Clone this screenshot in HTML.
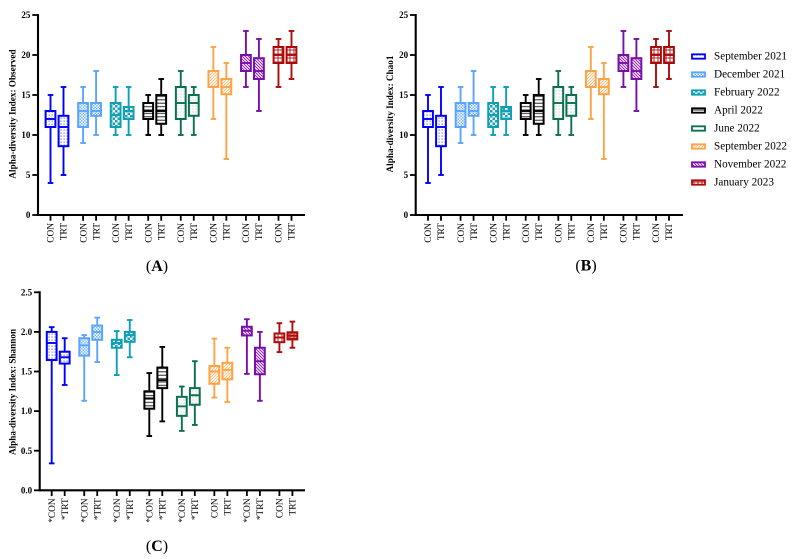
<!DOCTYPE html>
<html lang="en">
<head>
<meta charset="utf-8">
<title>Alpha-diversity box plots</title>
<style>
html,body{margin:0;padding:0;background:#fff;}
#figure{display:block;width:792px;height:559px;font-family:"Liberation Serif",serif;filter:blur(0.3px);}
text{font-family:"Liberation Serif",serif;fill:#000;}
</style>
</head>
<body>
<svg id="figure" xmlns="http://www.w3.org/2000/svg" width="792" height="559" viewBox="0 0 792 559"><defs id="defs"></defs></svg>
<script>
const months = ["September 2021","December 2021","February 2022","April 2022","June 2022","September 2022","November 2022","January 2023"];
const monthColors = ["#0000ff","#5aa5ff","#0f9fb5","#000000","#0b7050","#ffa347","#7a0fa8","#ad0a0a"];

const yTicksCount = [0,5,10,15,20,25];
const yTicksShannon = [0,0.5,1,1.5,2,2.5];
const yTickLabelsCount = ["0","5","10","15","20","25"];
const yTickLabelsShannon = ["0.0","0.5","1.0","1.5","2.0","2.5"];

const labelsPlain = ["CON","TRT","CON","TRT","CON","TRT","CON","TRT","CON","TRT","CON","TRT","CON","TRT","CON","TRT"];
const labelsShannon = ["*CON","*TRT","*CON","*TRT","*CON","*TRT","*CON","*TRT","*CON","*TRT","CON","TRT","*CON","*TRT","CON","TRT"];

const observedMin = [4,5,9,10,10,10,10,10,10,10,12,7,16,13,16,17];
const observedQ1 = [11,8.6,11,12.4,11,12,12,11.4,12,12.4,16,15.1,18,17,19,19];
const observedMedian = [12,11,13,13,12.5,13,13,13,14,14,16,16,19,18,20,20];
const observedQ3 = [13,12.4,14,14,14,13.5,14,15,16,15,18,17,20,19.6,21,21];
const observedMax = [15,16,16,18,16,16,15,17,18,16,21,19,23,22,22,23];

const chao1Min = [4,5,9,10,10,10,10,10,10,10,12,7,16,13,16,17];
const chao1Q1 = [11,8.6,11,12.4,11,12,12,11.4,12,12.4,16,15.1,18,17,19,19];
const chao1Median = [12,11,13,13,12.5,13,13,13,14,14,16,16,19,18,20,20];
const chao1Q3 = [13,12.4,14,14,14,13.5,14,15,16,15,18,17,20,19.6,21,21];
const chao1Max = [15,16,16,18,16,16,15,17,18,16,21,19,23,22,22,23];

const shannonMin = [0.34,1.33,1.13,1.62,1.455,1.68,0.685,0.87,0.75,0.825,1.17,1.115,1.47,1.13,1.745,1.80];
const shannonQ1 = [1.645,1.60,1.70,1.90,1.80,1.875,1.03,1.29,0.94,1.08,1.345,1.40,1.955,1.465,1.87,1.905];
const shannonMedian = [1.86,1.68,1.83,2.0,1.86,1.96,1.16,1.39,1.06,1.20,1.50,1.52,2.015,1.63,1.93,1.95];
const shannonQ3 = [2.0,1.75,1.92,2.08,1.90,2.0,1.25,1.55,1.18,1.29,1.57,1.61,2.065,1.80,1.98,1.995];
const shannonMax = [2.06,1.92,1.96,2.18,2.01,2.15,1.48,1.81,1.31,1.63,1.915,1.80,2.16,2.0,2.11,2.13];

const NS = "http://www.w3.org/2000/svg";
const svg = document.getElementById("figure");
const defs = document.getElementById("defs");



function make(tag, attrs, parent) {
  const el = document.createElementNS(NS, tag);
  for (const k in attrs) el.setAttribute(k, attrs[k]);
  (parent || svg).appendChild(el);
  return el;
}

function addPattern(id, size, color, shapes) {
  const p = make("pattern", {id: id, width: size, height: size, patternUnits: "userSpaceOnUse"}, defs);
  make("rect", {width: size, height: size, fill: "#fff"}, p);
  shapes.forEach(function (s) {
    make(s.tag, Object.assign({}, s.attrs, s.tag === "path" ? {stroke: color, fill: "none"} : {fill: color}), p);
  });
}

function rectShape(x, y, w, h, o) {
  return {tag: "rect", attrs: {x: x, y: y, width: w, height: h, opacity: o}};
}
function pathShape(d, w, o) {
  return {tag: "path", attrs: {d: d, "stroke-width": w, opacity: o}};
}

const patternShapes = [
  {size: 3, shapes: [rectShape(0.5, 0.5, 1.2, 1.2, 0.55)]},
  {size: 3, shapes: [rectShape(0, 0, 1.5, 1.5, 0.8), rectShape(1.5, 1.5, 1.5, 1.5, 0.8)]},
  {size: 5, shapes: [rectShape(0, 0, 2.5, 2.5, 0.95), rectShape(2.5, 2.5, 2.5, 2.5, 0.95)]},
  {size: 3.4, shapes: [pathShape("M0 1.2H3.4", 1, 0.85)]},
  {size: 3, shapes: [rectShape(0.5, 0.5, 1, 1, 0.4)]},
  {size: 3, shapes: [pathShape("M-1 1L1 -1M0 3L3 0M2 4L4 2", 0.9, 0.75)]},
  {size: 3, shapes: [pathShape("M-1 2L1 4M0 0L3 3M2 -1L4 1", 1, 0.9)]},
  {size: 4, shapes: [pathShape("M0 2H4M2 0V4", 1, 0.9)]}
];
months.forEach(function (m, i) {
  addPattern("pat" + i, patternShapes[i].size, monthColors[i], patternShapes[i].shapes);
});

function xScale(panel, i) {
  const group = Math.floor(i / 2);
  return panel.x0 + group * panel.groupStep + (i % 2) * panel.pairStep;
}
function yScale(panel, v) {
  return panel.yZero - (v - panel.vMin) / (panel.vMax - panel.vMin) * (panel.yZero - panel.yTop);
}

function drawPanel(panel) {
  const g = make("g", {});
  
  

  for (let i = 0; i < panel.min.length; i++) {
    const color = monthColors[Math.floor(i / 2)];
    const x = xScale(panel, i);
    const box = make("g", {}, g);
    
    
    const yMin = yScale(panel, panel.min[i]);
    const yMax = yScale(panel, panel.max[i]);
    const yQ1 = yScale(panel, panel.q1[i]);
    const yQ3 = yScale(panel, panel.q3[i]);
    const yMed = yScale(panel, panel.median[i]);
    make("line", {x1: x, x2: x, y1: yMin, y2: yMax, stroke: color, "stroke-width": 1.9}, box);
    make("line", {x1: x - 2.8, x2: x + 2.8, y1: yMin, y2: yMin, stroke: color, "stroke-width": 1.9}, box);
    make("line", {x1: x - 2.8, x2: x + 2.8, y1: yMax, y2: yMax, stroke: color, "stroke-width": 1.9}, box);
    make("rect", {x: x - 4.9, y: yQ3, width: 9.8, height: yQ1 - yQ3, fill: "url(#pat" + Math.floor(i / 2) + ")", stroke: color, "stroke-width": 2}, box);
    make("line", {x1: x - 4.9, x2: x + 4.9, y1: yMed, y2: yMed, stroke: color, "stroke-width": 1.9}, box);
  }

  const yAxis = make("line", {x1: panel.xAxis, x2: panel.xAxis, y1: panel.yTop - 1, y2: panel.yZero + 1, stroke: "#000", "stroke-width": 2.1}, g);
  
  
  const xAxis = make("line", {x1: panel.xAxis - 1, x2: panel.xEnd, y1: panel.yZero, y2: panel.yZero, stroke: "#000", "stroke-width": 2.1}, g);
  
  

  panel.yTicks.forEach(function (v, i) {
    const y = yScale(panel, v);
    const tick = make("line", {x1: panel.xAxis - 5.7, x2: panel.xAxis, y1: y, y2: y, stroke: "#000", "stroke-width": 1.8}, g);
    
    
    const t = make("text", {x: panel.xAxis - 7.6, y: y + 3.1, "text-anchor": "end", "font-size": 9, "font-weight": "bold"}, g);
    t.textContent = panel.yLabels[i];
    
    
  });

  panel.labels.forEach(function (label, i) {
    const x = xScale(panel, i);
    const tick = make("line", {x1: x, x2: x, y1: panel.yZero, y2: panel.yZero + 5.7, stroke: "#000", "stroke-width": 1.8}, g);
    
    
    const ty = panel.yZero + 8;
    const t = make("text", {x: x + 3.2, y: ty, "text-anchor": "end", "font-size": 9.4, transform: "rotate(-90 " + (x + 3.2) + " " + ty + ")"}, g);
    t.textContent = label;
    
    
  });

  const title = make("text", {x: panel.titleX, y: panel.titleY, "text-anchor": "middle", "font-size": 9.2, "font-weight": "bold", transform: "rotate(-90 " + panel.titleX + " " + panel.titleY + ")"}, g);
  title.textContent = panel.title;
  
  

  const cap = make("text", {x: panel.capX, y: panel.capY, "text-anchor": "middle", "font-size": 16}, g);
  
  
  cap.appendChild(document.createTextNode("("));
  const letter = make("tspan", {"font-weight": "bold"}, cap);
  letter.textContent = panel.letter;
  cap.appendChild(document.createTextNode(")"));
}

drawPanel({
  name: "observed-panel", key: "observed", letter: "A", title: "Alpha-diversity Index: Observed",
  xAxis: 38, xEnd: 305, yTop: 15, yZero: 215, vMin: 0, vMax: 25, x0: 50.5, groupStep: 32.57, pairStep: 13,
  titleX: 15.5, titleY: 114, capX: 157, capY: 271,
  yTicks: yTicksCount, yLabels: yTickLabelsCount, labels: labelsPlain,
  min: observedMin, q1: observedQ1, median: observedMedian, q3: observedQ3, max: observedMax
});
drawPanel({
  name: "chao1-panel", key: "chao1", letter: "B", title: "Alpha-diversity Index: Chao1",
  xAxis: 415.7, xEnd: 683, yTop: 15, yZero: 215, vMin: 0, vMax: 25, x0: 428, groupStep: 32.57, pairStep: 13,
  titleX: 393, titleY: 114, capX: 586, capY: 270.5,
  yTicks: yTicksCount, yLabels: yTickLabelsCount, labels: labelsPlain,
  min: chao1Min, q1: chao1Q1, median: chao1Median, q3: chao1Q3, max: chao1Max
});
drawPanel({
  name: "shannon-panel", key: "shannon", letter: "C", title: "Alpha-diversity Index: Shannon",
  xAxis: 39.7, xEnd: 305, yTop: 292.3, yZero: 490.3, vMin: 0, vMax: 2.5, x0: 51.7, groupStep: 32.53, pairStep: 13,
  titleX: 15.5, titleY: 392, capX: 157, capY: 551,
  yTicks: yTicksShannon, yLabels: yTickLabelsShannon, labels: labelsShannon,
  min: shannonMin, q1: shannonQ1, median: shannonMedian, q3: shannonQ3, max: shannonMax
});

const legend = make("g", {});


months.forEach(function (m, i) {
  const y = 56.5 + i * 18;
  const entry = make("g", {}, legend);
  
  
  make("rect", {x: 692, y: y - 2.2, width: 13, height: 4.4, fill: "url(#pat" + i + ")", stroke: monthColors[i], "stroke-width": 1.8}, entry);
  const t = make("text", {x: 714, y: y + 3, "font-size": 11.2}, entry);
  t.textContent = m;
});
</script>
</body>
</html>
